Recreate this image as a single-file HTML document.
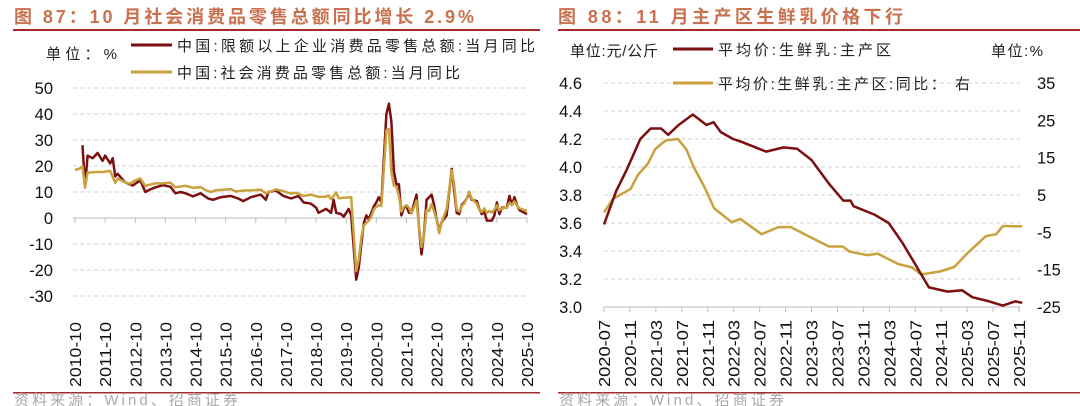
<!DOCTYPE html>
<html><head><meta charset="utf-8">
<style>
html,body{margin:0;padding:0;background:#fff;}
svg{display:block;font-family:"Liberation Sans","Noto Sans CJK SC",sans-serif;}
</style></head>
<body>
<svg id="s" width="1080" height="406" viewBox="0 0 1080 406" xmlns="http://www.w3.org/2000/svg">
<g>
<text x="14" y="23" font-size="18" font-weight="bold" fill="#c9714f" textLength="460" lengthAdjust="spacing">图 87：10 月社会消费品零售总额同比增长 2.9%</text>
<rect x="13" y="29" width="527" height="2" fill="#a52a2a"/>
<text x="46" y="59" font-size="15" fill="#222" textLength="71" lengthAdjust="spacing">单位：%</text>
<line x1="131" y1="45" x2="172" y2="45" stroke="#7b0f12" stroke-width="3"/>
<text x="177" y="51" font-size="15" fill="#222" textLength="358" lengthAdjust="spacing">中国:限额以上企业消费品零售总额:当月同比</text>
<line x1="131" y1="72" x2="172" y2="72" stroke="#c9a13e" stroke-width="3"/>
<text x="177" y="78" font-size="15" fill="#222" textLength="283" lengthAdjust="spacing">中国:社会消费品零售总额:当月同比</text>
<g id="lg"></g>
<rect x="13" y="392" width="527" height="1.5" fill="#a52a2a"/>
<text x="14" y="405" font-size="15" fill="#aaa" textLength="224" lengthAdjust="spacing">资料来源：Wind、招商证券</text>
</g>
<g>
<text x="558" y="23" font-size="18" font-weight="bold" fill="#c9714f" textLength="345" lengthAdjust="spacing">图 88：11 月主产区生鲜乳价格下行</text>
<rect x="558" y="29" width="522" height="2" fill="#a52a2a"/>
<text x="570" y="56" font-size="15" fill="#222" textLength="88" lengthAdjust="spacing">单位:元/公斤</text>
<line x1="673" y1="49" x2="713" y2="49" stroke="#7b0f12" stroke-width="3"/>
<text x="718" y="55" font-size="15" fill="#222" textLength="173" lengthAdjust="spacing">平均价:生鲜乳:主产区</text>
<text x="991" y="56" font-size="15" fill="#222" textLength="52" lengthAdjust="spacing">单位:%</text>
<g id="rg"></g>
<line x1="673" y1="83" x2="713" y2="83" stroke="#c9a13e" stroke-width="3"/>
<text x="718" y="89" font-size="15" fill="#222" textLength="252" lengthAdjust="spacing">平均价:生鲜乳:主产区:同比： 右</text>
<rect x="558" y="392" width="522" height="1.5" fill="#a52a2a"/>
<text x="559" y="405" font-size="15" fill="#aaa" textLength="225" lengthAdjust="spacing">资料来源：Wind、招商证券</text>
</g>
</svg>
<script>
// ---- Left chart data ----
const leftYTicks = [50,40,30,20,10,0,-10,-20,-30];
const leftXTicks = ["2010-10","2011-10","2012-10","2013-10","2014-10","2015-10","2016-10","2017-10","2018-10","2019-10","2020-10","2021-10","2022-10","2023-10","2024-10","2025-10"];
const totalDates = ["2010-10","2010-11","2010-12","2011-01","2011-02","2011-03","2011-06","2011-09","2011-12","2012-02","2012-03","2012-06","2012-08","2012-10","2012-12","2013-02","2013-03","2013-06","2013-09","2013-12","2014-02","2014-06","2014-09","2014-12","2015-02","2015-04","2015-06","2015-09","2015-12","2016-02","2016-06","2016-09","2016-12","2017-02","2017-06","2017-09","2017-12","2018-02","2018-05","2018-08","2018-11","2018-12","2019-02","2019-03","2019-04","2019-06","2019-07","2019-09","2019-12","2020-02","2020-03","2020-04","2020-05","2020-06","2020-07","2020-08","2020-09","2020-10","2020-11","2020-12","2021-02","2021-03","2021-04","2021-05","2021-06","2021-07","2021-08","2021-09","2021-10","2021-11","2021-12","2022-02","2022-03","2022-04","2022-05","2022-06","2022-07","2022-08","2022-09","2022-10","2022-11","2022-12","2023-02","2023-03","2023-04","2023-05","2023-06","2023-07","2023-08","2023-09","2023-10","2023-11","2023-12","2024-02","2024-03","2024-04","2024-05","2024-06","2024-07","2024-08","2024-09","2024-10","2024-11","2024-12","2025-02","2025-03","2025-04","2025-05","2025-06","2025-07","2025-08","2025-09","2025-10"];
const totalValues = [18.6,18.7,19.1,19.9,11.6,17.4,17.7,17.7,18.1,13.5,15.2,13.7,13.2,14.5,15.2,12.3,12.6,13.3,13.3,13.6,11.8,12.4,11.6,11.9,10.7,10.0,10.6,10.9,11.1,10.2,10.6,10.7,10.9,9.5,11.0,10.3,9.4,9.7,8.5,9.0,8.1,8.2,8.2,8.7,7.2,9.8,7.6,7.8,8.0,-20.5,-15.8,-7.5,-2.8,-1.8,-1.1,0.5,3.3,4.3,5.0,4.6,33.8,34.2,17.7,12.4,12.1,8.5,2.5,4.4,4.9,3.9,1.7,6.7,-3.5,-11.1,-6.7,3.1,2.7,5.4,2.5,-0.5,-5.9,-1.8,3.5,10.6,18.4,12.7,3.1,2.5,4.6,5.5,7.6,10.1,7.4,5.5,3.1,2.3,3.7,2.0,2.7,2.1,3.2,4.8,3.0,3.7,4.0,5.9,5.1,6.4,4.8,3.7,3.4,3.0,2.9];
const aboveDates = ["2011-01","2011-02","2011-03","2011-05","2011-07","2011-09","2011-10","2011-12","2012-01","2012-02","2012-03","2012-06","2012-09","2012-12","2013-02","2013-04","2013-06","2013-09","2013-12","2014-02","2014-04","2014-06","2014-09","2014-12","2015-03","2015-05","2015-08","2015-12","2016-03","2016-05","2016-08","2016-12","2017-02","2017-03","2017-06","2017-09","2017-12","2018-03","2018-05","2018-08","2018-10","2018-11","2019-02","2019-04","2019-05","2019-06","2019-08","2019-09","2019-11","2019-12","2020-02","2020-03","2020-04","2020-05","2020-06","2020-07","2020-08","2020-09","2020-10","2020-11","2020-12","2021-02","2021-03","2021-04","2021-05","2021-06","2021-07","2021-08","2021-09","2021-10","2021-11","2021-12","2022-02","2022-03","2022-04","2022-05","2022-06","2022-07","2022-08","2022-09","2022-10","2022-11","2022-12","2023-02","2023-03","2023-04","2023-05","2023-06","2023-07","2023-08","2023-09","2023-10","2023-11","2023-12","2024-02","2024-03","2024-04","2024-05","2024-06","2024-07","2024-08","2024-09","2024-10","2024-11","2024-12","2025-02","2025-03","2025-04","2025-05","2025-06","2025-07","2025-08","2025-09","2025-10"];
const aboveValues = [28,12,24,23,25,22,24,21,23,16,17,13.7,12.5,14.5,10,11,11.8,12.6,12.0,9.5,10.0,9.5,8.3,9.5,7.5,7.0,8.0,8.5,7.5,6.5,8.0,9.0,7.0,10.0,10.5,8.5,7.5,8.5,6.0,5.5,4.0,2.0,3.5,2.0,7.0,2.0,1.5,0.5,3.5,1.0,-23.7,-19,-10,-2,1.0,-0.5,2,4.5,6,8,6,40,44,37,18,13,13,1,4,4.5,2,2,9,-3.5,-14,-6,7,8,9,5,-0.5,-5,-1.6,1,10,18.9,10.5,2,1.5,5,6,7.5,9.5,7,6.5,3.5,1.5,2.5,-1,-1,-1,1,6,1.5,4,4,8.5,5,8,5,3,2.5,2,1.5];

// ---- Right chart data (months since 2020-07) ----
const rightLTicks = ["4.6","4.4","4.2","4.0","3.8","3.6","3.4","3.2","3.0"];
const rightRTicks = [35,25,15,5,-5,-15,-25];
const rightXTicks = ["2020-07","2020-11","2021-03","2021-07","2021-11","2022-03","2022-07","2022-11","2023-03","2023-07","2023-11","2024-03","2024-07","2024-11","2025-03","2025-07","2025-11"];
const priceMonths = [0,1.9,3.5,5.6,7.2,8.8,9.9,11.5,13.7,15.8,16.9,18,19.9,21.2,25,27.7,29.8,32,34.7,36.9,38,38.5,41.7,43.9,46,48.2,50.1,53,55.2,56.8,59.4,61.5,63.4,64.5];
const priceValues = [3.59,3.83,3.98,4.20,4.275,4.275,4.23,4.30,4.375,4.30,4.32,4.25,4.20,4.18,4.11,4.14,4.13,4.05,3.88,3.76,3.76,3.72,3.66,3.60,3.46,3.29,3.14,3.11,3.12,3.07,3.04,3.01,3.04,3.03];
const yoyMonths = [0,1.4,4.1,5.2,6.8,7.9,9.5,11.4,12.7,13.8,15.4,17,19.7,21,24.3,26.9,28.8,31.5,34.7,36.8,37.9,40.6,42.2,45.4,47.5,48.9,51.8,54,56,58.9,60.5,61.5,63.4,64.5];
const yoyValues = [0.3,4.0,6.6,10.3,13.5,17.3,19.6,20,17.2,12.6,7.4,1.4,-2.3,-1.4,-5.5,-3.6,-3.6,-6,-8.8,-8.8,-10.2,-11.1,-10.7,-13.5,-14.4,-16.3,-15.5,-14.3,-10.7,-6,-5.5,-3.3,-3.4,-3.4];

const NS="http://www.w3.org/2000/svg";
function mk(parent,tag,attrs){const e=document.createElementNS(NS,tag);for(const k in attrs)e.setAttribute(k,attrs[k]);parent.appendChild(e);return e;}
function mIdx(d,base){const [y,m]=d.split("-").map(Number);const [by,bm]=base.split("-").map(Number);return (y-by)*12+(m-bm);}

// Left axes
const lg=document.getElementById("lg");
const LX0=75, LPX=452/180, LY=v=>218-v*2.6;
const lx=m=>LX0+m*LPX;
leftYTicks.forEach(v=>{
  if(v!==0){const g=mk(lg,"line",{x1:73,x2:527,y1:LY(v),y2:LY(v),stroke:"#d0d0d0","stroke-dasharray":"4,3"});
  
  }
  const t=mk(lg,"text",{x:53,y:LY(v)+6,"font-size":16.5,"text-anchor":"end",fill:"#111"});t.textContent=v;
  
  
});
const lax=mk(lg,"line",{x1:73,x2:527,y1:LY(0),y2:LY(0),stroke:"#bbb","stroke-width":1});


leftXTicks.forEach(d=>{
  const x=lx(mIdx(d,"2010-10"));
  const tk=mk(lg,"line",{x1:x,x2:x,y1:LY(0),y2:LY(0)+5,stroke:"#bbb"});
  
  
  const t=mk(lg,"text",{x:0,y:0,"font-size":16,"text-anchor":"end",fill:"#111",textLength:65,lengthAdjust:"spacingAndGlyphs",transform:`translate(${x+6},322) rotate(-90)`});t.textContent=d;
  
  
});
function lpath(dates,vals){return dates.map((d,i)=>(i?"L":"M")+lx(mIdx(d,"2010-10")).toFixed(1)+","+LY(vals[i]).toFixed(1)).join("");}
const p1=mk(lg,"path",{d:lpath(totalDates,totalValues),fill:"none",stroke:"#c9a13e","stroke-width":2.5,"stroke-linejoin":"round"});


const p2=mk(lg,"path",{d:lpath(aboveDates,aboveValues),fill:"none",stroke:"#7b0f12","stroke-width":2.5,"stroke-linejoin":"round"});


lg.appendChild(p1);

// Right axes
const rg=document.getElementById("rg");
const RX0=604, RPX=415/64;
const rx=m=>RX0+m*RPX;
const RYL=v=>83+(4.6-v)*140;
const RYR=v=>83+(35-v)*3.733;
rightLTicks.forEach(s=>{
  const v=parseFloat(s);
  if(v>3.0){const g=mk(rg,"line",{x1:604,x2:1020,y1:RYL(v),y2:RYL(v),stroke:"#d0d0d0","stroke-dasharray":"4,3"});
  
  }
  const t=mk(rg,"text",{x:582,y:RYL(v)+6,"font-size":16.5,"text-anchor":"end",fill:"#111"});t.textContent=s;
  
  
});
rightRTicks.forEach(v=>{
  const t=mk(rg,"text",{x:1037,y:RYR(v)+6,"font-size":16.5,fill:"#111"});t.textContent=v;
  
  
});
const rax=mk(rg,"line",{x1:604,x2:1020,y1:307,y2:307,stroke:"#bbb"});


rightXTicks.forEach(d=>{
  const x=rx(mIdx(d,"2020-07"));
  const tk=mk(rg,"line",{x1:x,x2:x,y1:307,y2:312,stroke:"#bbb"});
  
  
  const t=mk(rg,"text",{x:0,y:0,"font-size":16,"text-anchor":"end",fill:"#111",textLength:67,lengthAdjust:"spacingAndGlyphs",transform:`translate(${x+6},320) rotate(-90)`});t.textContent=d;
  
  
});
const yp=mk(rg,"path",{d:yoyMonths.map((m,i)=>(i?"L":"M")+rx(m).toFixed(1)+","+RYR(yoyValues[i]).toFixed(1)).join(""),fill:"none",stroke:"#c9a13e","stroke-width":2.5,"stroke-linejoin":"round"});


const pp=mk(rg,"path",{d:priceMonths.map((m,i)=>(i?"L":"M")+rx(m).toFixed(1)+","+RYL(priceValues[i]).toFixed(1)).join(""),fill:"none",stroke:"#7b0f12","stroke-width":2.5,"stroke-linejoin":"round"});


</script>
</body></html>
